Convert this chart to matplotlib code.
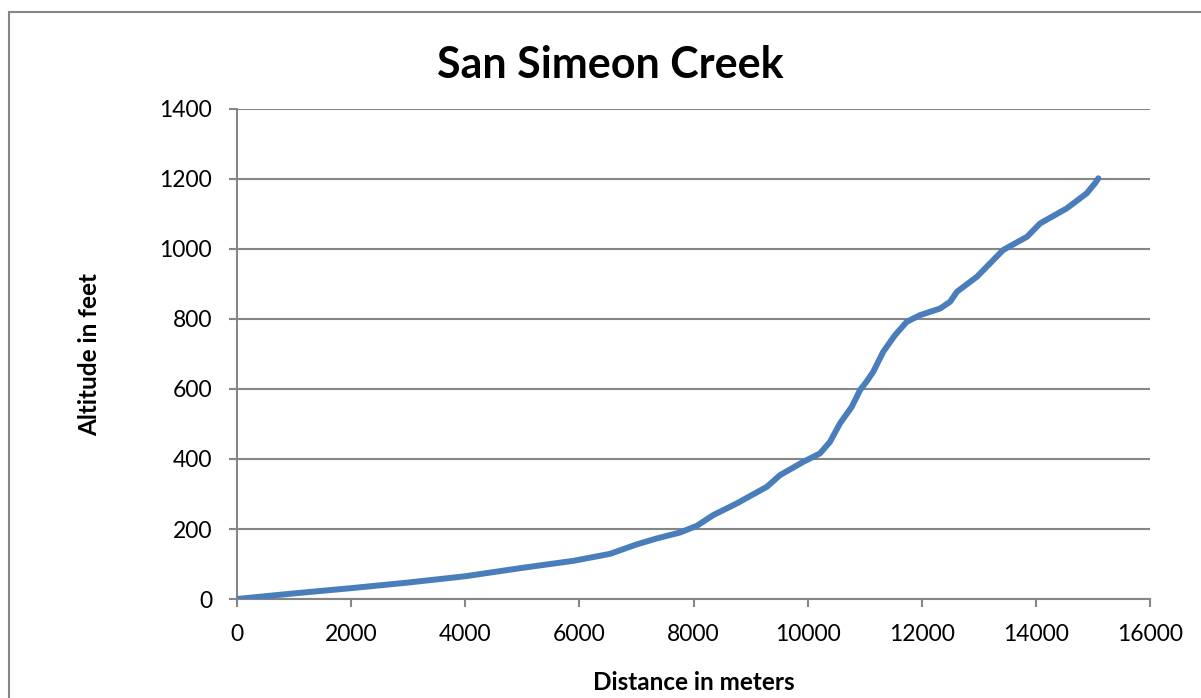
import matplotlib
matplotlib.use("Agg")
import matplotlib.pyplot as plt
from matplotlib.patches import Rectangle

plt.rcParams['font.family'] = ['Lato', 'DejaVu Sans']

distance = [0, 1000, 2000, 3000, 4000, 5000, 5894, 6537, 7005, 7356, 7764, 8057,
            8349, 8758, 9289, 9517, 9925, 10217, 10392, 10568, 10773, 10919, 11050,
            11152, 11327, 11532, 11737, 11970, 12321, 12496, 12618, 12969, 13425,
            13845, 14073, 14540, 14890, 15037, 15095]
altitude = [0, 16, 31, 47, 65, 89, 109, 129, 156, 173, 190, 209,
            240, 273, 321, 354, 392, 416, 449, 502, 549, 597, 625,
            650, 707, 754, 792, 811, 830, 849, 878, 921, 997,
            1035, 1073, 1116, 1159, 1188, 1202]

title = "San Simeon Creek"
xlabel = "Distance in meters"
ylabel = "Altitude in feet"
xticks = list(range(0, 16001, 2000))
yticks = list(range(0, 1401, 200))

W, H = 1201, 698
fig = plt.figure(figsize=(W / 100, H / 100), dpi=100)
ax = fig.add_axes([237 / W, 1 - 599 / H, (1150 - 237) / W, (599 - 109) / H])

# chart border (left and top visible)
fig.patches.append(Rectangle((9 / W, -0.1), 1.2, 1 - 12 / H + 0.1,
                             transform=fig.transFigure, fill=False,
                             edgecolor='#868686', linewidth=1.5))

gray = '#868686'
ax.plot(distance, altitude, color='#4A7EBB', linewidth=4.3,
        solid_capstyle='round', solid_joinstyle='round', zorder=3)

ax.set_xlim(0, 16000)
ax.set_ylim(0, 1400)
ax.set_xticks(xticks)
ax.set_yticks(yticks)
ax.set_xticklabels([str(v) for v in xticks], fontsize=16.5)
ax.set_yticklabels([str(v) for v in yticks], fontsize=16.5)
ax.yaxis.grid(True, color=gray, linewidth=1.5)
ax.set_axisbelow(True)
for s in ['top', 'right']:
    ax.spines[s].set_visible(False)
for s in ['left', 'bottom']:
    ax.spines[s].set_color(gray)
    ax.spines[s].set_linewidth(1.5)
ax.tick_params(axis='both', direction='out', length=6, width=1.5, color=gray,
               labelcolor='black')
ax.tick_params(axis='x', pad=12)
ax.tick_params(axis='y', pad=12)

fig.text(610 / W, 1 - 65 / H, title, ha='center', va='center',
         fontsize=31, fontweight='bold')
fig.text(694 / W, 1 - 683 / H, xlabel, ha='center', va='center',
         fontsize=17.5, fontweight='bold')
fig.text(90 / W, 1 - 354 / H, ylabel, ha='center', va='center',
         fontsize=17.5, fontweight='bold', rotation=90)

fig.savefig('out.png', dpi=100)
